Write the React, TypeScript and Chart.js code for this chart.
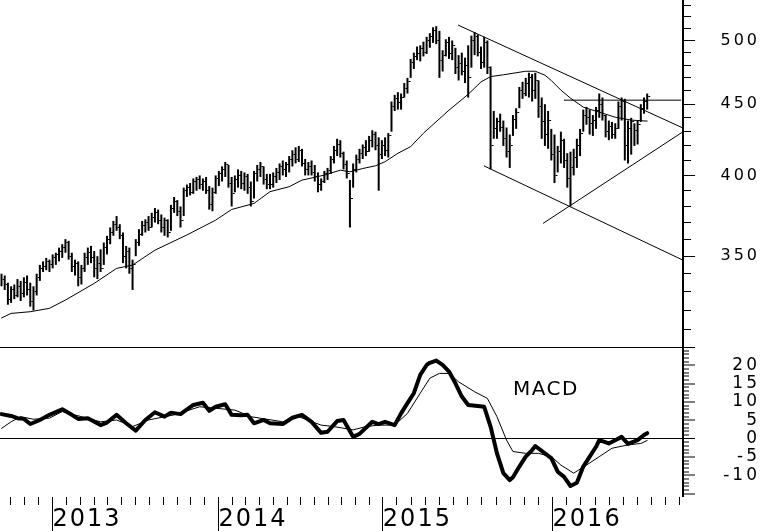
import React, { useEffect, useRef } from 'react';
import { Chart, registerables } from 'chart.js';

Chart.register(...registerables);

// Weekly bars (index 0 = first week shown, late summer 2012)
const weekHigh = [
  340, 339, 335, 333, 334, 337, 336, 338, 339, 335,
  333, 340, 345, 347, 349, 348, 351, 352, 355, 357,
  360, 359, 352, 348, 347, 345, 352, 355, 356, 353,
  350, 354, 358, 362, 367, 371, 374, 369, 364, 356,
  355, 348, 360, 366, 371, 372, 374, 376, 379, 378,
  375, 373, 372, 381, 386, 384, 380, 392, 394, 395,
  398, 399, 400, 398, 399, 393, 392, 400, 403, 406,
  409, 407, 399, 400, 404, 403, 402, 401, 396, 403,
  407, 409, 406, 401, 401, 402, 405, 408, 410, 409,
  413, 417, 419, 420, 418, 411, 409, 410, 407, 402,
  398, 403, 405, 413, 420, 425, 424, 416, 410, 397,
  408, 414, 418, 421, 424, 427, 431, 430, 426, 424,
  426, 429, 452, 457, 459, 458, 466, 470, 485, 490,
  495, 496, 499, 503, 506, 511, 512, 508, 492, 501,
  503, 500, 494, 488, 490, 486, 496, 504, 507, 505,
  495, 503, 500, 479, 445, 440, 443, 438, 433, 428,
  442, 447, 463, 467, 470, 474, 473, 474, 468, 455,
  450, 445, 432, 428, 420, 430, 425, 415, 416, 418,
  425, 432, 446, 448, 446, 442, 448, 458, 455, 442,
  438, 437, 436, 452, 455, 454, 438, 440, 436, 438,
  450, 455, 458,
];
const weekLow = [
  333, 331, 323, 324, 326, 327, 325, 327, 328, 322,
  320, 328, 336, 341, 342, 341, 343, 345, 347, 349,
  352, 348, 341, 339, 333, 334, 341, 345, 346, 338,
  337, 341, 345, 351, 357, 362, 365, 360, 346, 343,
  340, 331, 350, 356, 362, 364, 365, 367, 370, 369,
  364, 362, 361, 365, 376, 374, 367, 374, 386, 387,
  388, 390, 391, 390, 388, 378, 377, 388, 393, 396,
  399, 392, 380, 389, 392, 391, 390, 388, 380, 385,
  396, 399, 394, 391, 391, 392, 395, 397, 400, 399,
  402, 406, 408, 409, 406, 400, 400, 400, 396, 389,
  390, 395, 397, 401, 408, 413, 412, 404, 398, 367,
  392, 402, 408, 411, 413, 416, 419, 417, 390, 411,
  413, 412, 430, 445, 446, 446, 455, 458, 470, 477,
  484, 483, 487, 489, 494, 498, 497, 470, 475, 487,
  485, 484, 473, 468, 472, 466, 455, 478, 488, 487,
  477, 478, 473, 404, 425, 425, 430, 420, 412, 405,
  427, 432, 447, 454, 456, 455, 452, 454, 440, 425,
  420, 418, 410, 395, 402, 408, 405, 392, 380, 400,
  405, 413, 430, 435, 428, 427, 432, 440, 438, 426,
  424, 425, 425, 432, 438, 410, 408, 414, 420, 421,
  437, 443, 446,
];
const weekClose = [
  337, 334, 326, 331, 328, 333, 329, 335, 331, 325,
  330, 338, 343, 344, 347, 345, 349, 351, 353, 355,
  358, 350, 344, 346, 338, 343, 349, 352, 349, 343,
  346, 343, 355, 360, 364, 369, 367, 362, 350, 353,
  343, 345, 358, 363, 368, 370, 367, 373, 376, 371,
  367, 371, 364, 379, 383, 377, 371, 390, 392, 389,
  396, 397, 394, 396, 390, 381, 389, 398, 401, 404,
  407, 395, 388, 397, 400, 395, 399, 392, 383, 401,
  404, 406, 397, 394, 394, 399, 402, 406, 404, 407,
  411, 414, 411, 417, 408, 404, 406, 402, 399, 394,
  396, 401, 403, 411, 417, 421, 415, 407, 401, 385,
  404, 411, 415, 419, 416, 424, 428, 420, 414, 420,
  417, 427, 448, 454, 451, 455, 462, 467, 482, 487,
  489, 493, 490, 500, 503, 508, 500, 484, 488, 498,
  489, 496, 478, 481, 475, 480, 470, 500, 503, 490,
  482, 498, 478, 420, 432, 437, 433, 425, 416, 420,
  439, 444, 460, 458, 466, 470, 460, 468, 448, 437,
  428, 438, 414, 400, 416, 424, 410, 398, 405, 412,
  420, 429, 442, 440, 436, 438, 445, 450, 442, 430,
  434, 428, 432, 448, 452, 420, 432, 437, 431, 435,
  447, 452, 456,
];

// Moving average (at these weeks)
const maWeeks = [0, 3, 9, 15, 20, 29, 36, 41, 48, 58, 67, 72, 79, 84, 90, 94, 101, 106, 109, 113, 117, 120, 124, 128, 132, 140, 146, 150, 153, 157, 164, 167, 170, 172, 175, 178, 182, 187, 192, 197, 202];
const maValues = [316, 318.4, 319.3, 321.1, 325.5, 334.6, 343.0, 344.9, 353.5, 362.5, 371.5, 378.1, 381.9, 389.4, 392.6, 396.9, 400.2, 403.5, 402.4, 404.6, 406.4, 409.2, 414.9, 419.5, 428.9, 445.6, 457.4, 466.9, 471.0, 472.4, 475.2, 475.2, 472.1, 468.0, 460.6, 454.5, 447.8, 444.1, 440.4, 438.3, 437.6];

// MACD (thick) and signal (thin)
const macdWeeks = [0, 3, 5, 7, 9, 12, 15, 19, 22, 24, 27, 31, 33, 36, 39, 42, 45, 48, 51, 53, 56, 60, 63, 65, 67, 70, 72, 75, 77, 79, 82, 84, 88, 91, 94, 97, 100, 102, 105, 107, 110, 112, 116, 118, 120, 123, 125, 127, 129, 131, 133, 134, 136, 138, 140, 142, 144, 146, 149, 151, 153, 155, 157, 159, 160, 162, 164, 166, 167, 170, 172, 174, 176, 178, 180, 182, 184, 186, 187, 190, 192, 194, 196, 199, 201, 202];
const macdValues = [6.7, 6.2, 5.6, 5.4, 4.0, 5.1, 6.5, 8.0, 6.5, 5.4, 5.6, 3.7, 4.4, 6.5, 4.2, 2.2, 5.1, 7.2, 6.0, 7.1, 6.7, 9.2, 9.8, 7.6, 8.7, 9.4, 6.5, 6.4, 6.5, 4.2, 5.1, 4.2, 4.0, 5.7, 6.5, 4.6, 1.6, 1.9, 4.8, 5.1, 0.5, 1.3, 4.6, 4.0, 4.6, 3.7, 6.9, 9.7, 12.4, 17.4, 20.1, 20.7, 21.3, 20.1, 18.3, 15.1, 11.5, 9.2, 8.9, 8.7, 3.3, -4.0, -9.4, -11.3, -10.5, -7.6, -4.9, -3.1, -2.0, -4.0, -5.3, -9.0, -10.4, -12.9, -12.0, -7.6, -4.9, -2.2, -0.4, -1.3, -0.4, 0.5, -1.4, -0.4, 1.0, 1.5];
const signalWeeks = [0, 3, 6, 10, 15, 19, 25, 31, 36, 41, 46, 54, 62, 67, 73, 78, 88, 93, 100, 104, 110, 114, 118, 123, 127, 131, 134, 137, 140, 143, 148, 152, 155, 158, 160, 164, 168, 172, 175, 179, 183, 187, 191, 196, 200, 202];
const signalValues = [2.8, 4.6, 6.0, 5.3, 5.6, 7.4, 6.0, 4.6, 5.1, 3.3, 5.1, 6.5, 8.7, 8.3, 7.8, 6.0, 4.6, 6.0, 3.7, 3.3, 2.4, 3.3, 3.7, 3.7, 6.9, 12.4, 16.5, 17.8, 17.8, 15.5, 12.8, 11.0, 6.0, -0.4, -3.5, -4.0, -4.0, -4.9, -7.2, -9.4, -7.2, -4.9, -2.6, -1.7, -1.3, -0.5];

// Hand-drawn trendlines (week, price)
const trendStartWeeks = [142.9, 151.0, 169.5, 176.0];
const trendStartPrices = [512.8, 406.3, 369.6, 453.0];
const trendEndWeeks = [213.2, 213.2, 212.9, 212.5];
const trendEndPrices = [432.6, 347.7, 429.5, 453.0];

// Axis ticks
const yearTickWeeks = [15.95, 67.9, 119.3, 172.4];
const yearLabels = ['2013', '2014', '2015', '2016'];
const priceTicks = [310, 320, 330, 340, 350, 360, 370, 380, 390, 400, 410, 420, 430, 440, 450, 460, 470, 480, 490, 500, 510, 520, 530];
const priceLabels = [350, 400, 450, 500];
const macdTicks = [-15, -14, -13, -12, -11, -10, -9, -8, -7, -6, -5, -4, -3, -2, -1, 0, 1, 2, 3, 4, 5, 6, 7, 8, 9, 10, 11, 12, 13, 14, 15, 16, 17, 18, 19, 20, 21, 22, 23, 24, 25];
const macdLabels = [-10, -5, 0, 5, 10, 15, 20];

const X_MIN = -0.47;
const X_MAX = 213.2;
const PRICE_MIN = 301.2;
const PRICE_MAX = 534.6;
const MACD_MIN = -15.9;
const MACD_MAX = 25;

const FAMILY = "'DejaVu Sans', sans-serif";
const LABEL_SPACING = 3;

function buildMonthTicks(): number[] {
  const y = yearTickWeeks;
  const out: number[] = [];
  const firstStep = (y[1] - y[0]) / 12;
  for (let v = y[0] - firstStep; v >= X_MIN; v -= firstStep) out.unshift(v);
  for (let k = 0; k < y.length - 1; k++) {
    const step = (y[k + 1] - y[k]) / 12;
    for (let m = 0; m < 12; m++) out.push(y[k] + m * step);
  }
  const lastStep = (y[y.length - 1] - y[y.length - 2]) / 12;
  for (let v = y[y.length - 1]; v <= X_MAX; v += lastStep) out.push(v);
  return out;
}

const isYear = (v: number) => yearTickWeeks.some((w) => Math.abs(w - v) < 1e-6);

function measure(text: string, size: number, spacing: number): number {
  const c = document.createElement('canvas').getContext('2d') as any;
  c.font = `${size}px ${FAMILY}`;
  c.letterSpacing = `${spacing}px`;
  return c.measureText(text).width;
}

export default function App() {
  const ref = useRef<HTMLCanvasElement>(null);

  useEffect(() => {
    const canvas = ref.current;
    if (!canvas) return;

    const tick = document.createElement('canvas');
    tick.width = 8;
    tick.height = 1;
    const tctx = tick.getContext('2d')!;
    tctx.fillStyle = '#000';
    tctx.fillRect(5, 0, 2, 1);

    const monthTicks = buildMonthTicks();
    const AXIS_RIGHT = 683;
    const LABEL_RIGHT = 757 + LABEL_SPACING;
    const yPad = LABEL_RIGHT - AXIS_RIGHT - 12 - measure('500', 16, LABEL_SPACING);
    const y2Pad = LABEL_RIGHT - AXIS_RIGHT - 12 - measure('-10', 17, LABEL_SPACING);

    const lineDs = (data: any[], width: number, axis = 'y') => ({
      type: 'line' as const,
      data,
      borderColor: '#000',
      borderWidth: width,
      pointRadius: 0,
      tension: 0,
      fill: false,
      xAxisID: 'x',
      yAxisID: axis,
      borderJoinStyle: 'round' as const,
      borderCapStyle: 'round' as const,
    });

    const datasets: any[] = [
      {
        type: 'bar',
        data: weekHigh.map((h, i) => ({ x: i, y: [weekLow[i], h] })),
        backgroundColor: '#000',
        borderWidth: 0,
        barThickness: 2,
        inflateAmount: 0,
        xAxisID: 'x',
        yAxisID: 'y',
      },
      {
        type: 'line',
        data: weekClose.map((c, i) => ({ x: i, y: c })),
        showLine: false,
        pointStyle: tick,
        pointRadius: 3,
        xAxisID: 'x',
        yAxisID: 'y',
      },
      lineDs(maWeeks.map((w, i) => ({ x: w, y: maValues[i] })), 1),
      ...trendStartWeeks.map((w, i) =>
        lineDs([{ x: w, y: trendStartPrices[i] }, { x: trendEndWeeks[i], y: trendEndPrices[i] }], 1)
      ),
      lineDs(macdWeeks.map((w, i) => ({ x: w, y: macdValues[i] })), 4, 'y2'),
      lineDs(signalWeeks.map((w, i) => ({ x: w, y: signalValues[i] })), 1, 'y2'),
    ];

    const textPlugin = {
      id: 'textStyle',
      beforeLayout(chart: any) {
        chart.ctx.letterSpacing = `${LABEL_SPACING}px`;
      },
      beforeDraw(chart: any) {
        chart.ctx.letterSpacing = `${LABEL_SPACING}px`;
      },
      afterDatasetsDraw(chart: any) {
        chart.ctx.letterSpacing = '2px';
      },
      afterDraw(chart: any) {
        const { ctx, scales } = chart;
        ctx.save();
        ctx.letterSpacing = '1.5px';
        ctx.font = `20px ${FAMILY}`;
        ctx.fillStyle = '#000';
        ctx.textAlign = 'left';
        ctx.textBaseline = 'alphabetic';
        ctx.fillText('MACD', scales.x.getPixelForValue(160), scales.y2.getPixelForValue(12));
        ctx.restore();
        ctx.letterSpacing = '0px';
      },
    };

    const chart = new Chart(canvas, {
      type: 'line',
      data: { datasets },
      options: {
        animation: false,
        responsive: false,
        devicePixelRatio: 1,
        events: [],
        layout: { padding: 0, autoPadding: false },
        plugins: { legend: { display: false }, tooltip: { enabled: false } },
        scales: {
          x: {
            type: 'linear',
            position: 'bottom',
            min: X_MIN,
            max: X_MAX,
            bounds: 'data',
            offset: false,
            border: { display: false },
            grid: {
              offset: false,
              drawOnChartArea: false,
              drawTicks: true,
              tickLength: 34,
              tickWidth: 1,
              tickColor: '#000',
              tickBorderDash: (c: any) => (c.tick && isYear(c.tick.value) ? [] : [8, 60]),
            },
            ticks: {
              autoSkip: false,
              maxRotation: 0,
              minRotation: 0,
              align: 'start',
              padding: -26,
              z: 1,
              color: '#000',
              font: { family: FAMILY, size: 24 },
              callback: (v: any) => {
                const k = yearTickWeeks.findIndex((w) => Math.abs(w - Number(v)) < 1e-6);
                return k >= 0 ? yearLabels[k] : '';
              },
            },
            afterBuildTicks: (s: any) => {
              s.ticks = monthTicks.map((v) => ({ value: v }));
            },
            afterFit: (s: any) => {
              s.height = 34;
              s.paddingLeft = 0;
              s.paddingRight = 0;
            },
          },
          y: {
            type: 'logarithmic',
            position: 'right',
            stack: 'panels',
            stackWeight: 347,
            min: PRICE_MIN,
            max: PRICE_MAX,
            bounds: 'data',
            border: { display: true, color: '#000', width: 2 },
            grid: {
              drawOnChartArea: false,
              drawTicks: true,
              tickLength: 12,
              tickWidth: 1,
              tickColor: '#000',
              tickBorderDash: (c: any) => (c.tick && priceLabels.includes(c.tick.value) ? [] : [7, 40]),
            },
            ticks: {
              autoSkip: false,
              crossAlign: 'far',
              padding: yPad,
              color: '#000',
              font: { family: FAMILY, size: 16 },
              callback: (v: any) => (priceLabels.includes(Number(v)) ? String(v) : ''),
            },
            afterBuildTicks: (s: any) => {
              s.ticks = priceTicks.map((v) => ({ value: v }));
            },
            afterFit: (s: any) => {
              s.width = 77;
              s.paddingTop = 0;
              s.paddingBottom = 0;
            },
          },
          y2: {
            type: 'linear',
            position: 'right',
            stack: 'panels',
            stackWeight: 150,
            min: MACD_MIN,
            max: MACD_MAX,
            bounds: 'data',
            border: { display: true, color: '#000', width: 2 },
            grid: {
              drawOnChartArea: true,
              color: '#000',
              lineWidth: (c: any) => (c.tick && (c.tick.value === 0 || c.tick.value === MACD_MAX) ? 1 : 0),
              drawTicks: true,
              tickLength: 12,
              tickWidth: 1,
              tickColor: '#000',
              tickBorderDash: (c: any) => (c.tick && c.tick.value % 5 === 0 ? [] : [5, 40]),
            },
            ticks: {
              autoSkip: false,
              crossAlign: 'far',
              padding: y2Pad,
              color: '#000',
              font: { family: FAMILY, size: 17 },
              callback: (v: any) => (macdLabels.includes(Number(v)) ? String(v) : ''),
            },
            afterBuildTicks: (s: any) => {
              s.ticks = macdTicks.map((v) => ({ value: v }));
            },
            afterFit: (s: any) => {
              s.width = 77;
              s.paddingTop = 0;
              s.paddingBottom = 0;
            },
          },
        },
      } as any,
      plugins: [textPlugin],
    });

    return () => chart.destroy();
  }, []);

  return (
    <div style={{ position: 'absolute', left: 0, top: 0, width: 760, height: 531, background: '#fff' }}>
      <canvas ref={ref} width={760} height={531} style={{ display: 'block', width: 760, height: 531 }} />
    </div>
  );
}
